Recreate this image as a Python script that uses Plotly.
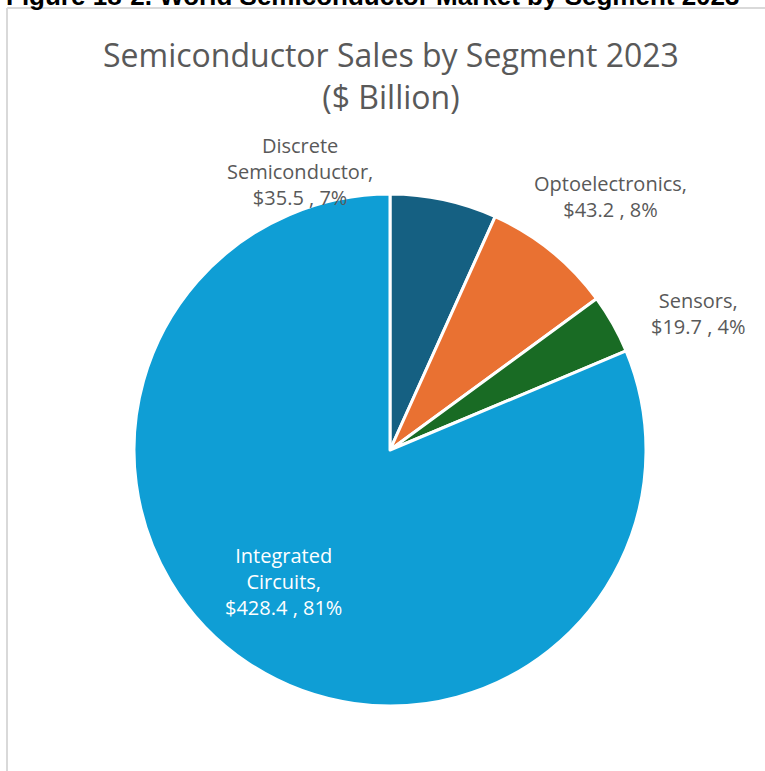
import plotly.graph_objects as go

segments = ["Discrete<br>Semiconductor", "Optoelectronics", "Sensors", "Integrated<br>Circuits"]
sales = [35.5, 43.2, 19.7, 428.4]
percents = ["7%", "8%", "4%", "81%"]
colors = ["#156082", "#E97132", "#196B24", "#0F9ED5"]

W, H = 765, 771

def px(x):
    return x / W

def py(y):
    return 1 - y / H

fig = go.Figure(go.Pie(
    labels=segments,
    values=sales,
    sort=False,
    direction="clockwise",
    rotation=0,
    marker=dict(colors=colors, line=dict(color="white", width=3)),
    textinfo="none",
    hoverinfo="label+value+percent",
    domain=dict(x=[px(134), px(646)], y=[py(706), py(194)]),
    showlegend=False,
))

# label placement (pixel centres) and colours
label_pos = [(300, 171), (610, 197), (698, 313), (283, 581)]
label_col = ["#595959", "#595959", "#595959", "#FFFFFF"]
annots = []
for seg, val, pct, (lx, ly), c in zip(segments, sales, percents, label_pos, label_col):
    annots.append(dict(
        text=f"{seg},<br>${val:.1f} , {pct}",
        x=px(lx), y=py(ly), xref="paper", yref="paper",
        xanchor="center", yanchor="middle", showarrow=False,
        font=dict(family="Open Sans", size=20, color=c),
        align="center",
    ))

# title
annots.append(dict(
    text="Semiconductor Sales by Segment 2023<br>($ Billion)",
    x=px(391), y=py(76), xref="paper", yref="paper",
    xanchor="center", yanchor="middle", showarrow=False,
    font=dict(family="Open Sans", size=32, color="#595959"),
    align="center",
))

# cropped figure caption at the very top
annots.append(dict(
    text="<b>Figure 18-2. World Semiconductor Market by Segment 2023</b>",
    x=px(4), y=py(-4), xref="paper", yref="paper",
    xanchor="left", yanchor="middle", showarrow=False,
    font=dict(family="Liberation Sans", size=26, color="#000000"),
))

fig.update_layout(
    width=W, height=H,
    margin=dict(l=0, r=0, t=0, b=0),
    paper_bgcolor="white",
    plot_bgcolor="white",
    annotations=annots,
    shapes=[
        dict(type="line", xref="paper", yref="paper",
             x0=px(7), x1=px(7), y0=0, y1=py(8),
             line=dict(color="#D9D9D9", width=2)),
        dict(type="line", xref="paper", yref="paper",
             x0=px(7), x1=1, y0=py(8), y1=py(8),
             line=dict(color="#D9D9D9", width=2)),
    ],
)

fig.write_html("out.html")
